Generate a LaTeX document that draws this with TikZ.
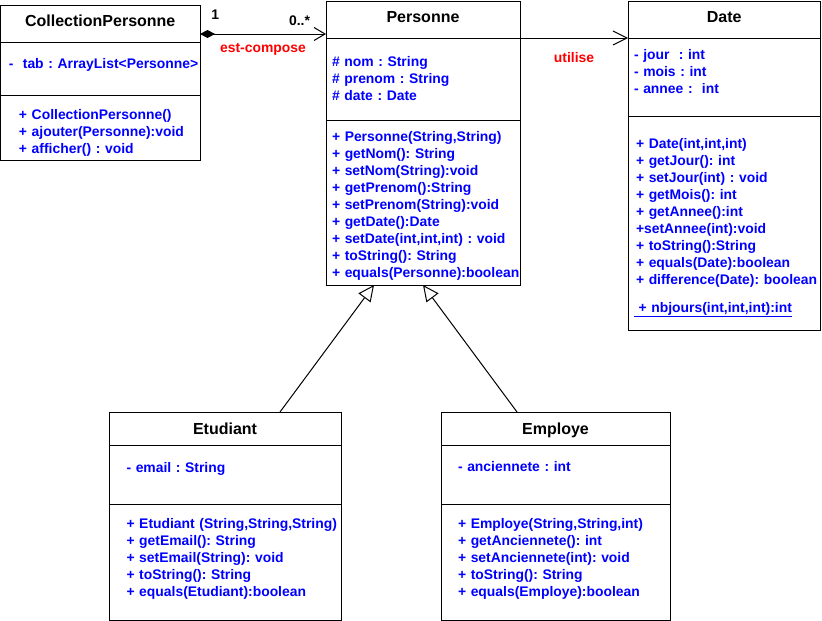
\documentclass[tikz,border=0pt]{standalone}
\usepackage{fontspec}
\setmainfont{Liberation Sans}
\usetikzlibrary{arrows.meta, positioning}
\definecolor{membblue}{HTML}{0000FF}
\definecolor{linkred}{HTML}{FF0000}
\newcommand{\headfont}{\fontsize{16}{19}\selectfont\bfseries}
\newcommand{\membfont}{\fontsize{13.9}{17}\selectfont\bfseries}
\frenchspacing

\begin{document}
\begin{tikzpicture}[
    x=1pt, y=-1pt,
    line width=1pt,
    head/.style={draw, outer sep=0pt, inner sep=0pt, anchor=north west,
                 font=\headfont, align=center, text depth=0pt},
    part/.style={draw, outer sep=0pt, inner xsep=0pt, inner ysep=2pt,
                 font=\membfont, text=membblue, align=left},
    pad/.style={execute at begin node={\leftskip=#1}},
    compose/.style={{Diamond[length=15pt,width=8pt]}-{Straight Barb[length=11pt,width=13pt]}},
    uses/.style={-{Straight Barb[length=14pt,width=14pt]}},
    inherit/.style={-{Triangle[open,length=16pt,width=15pt]}},
    role/.style={font=\membfont, text=linkred},
    mult/.style={font=\membfont},
]
    \useasboundingbox (0,0) rectangle (822,621);

    % CollectionPersonne
    \node[head, minimum width=199.5pt, minimum height=37pt, text depth=6pt] (colT) at (0.5,5) {CollectionPersonne};
    \node[part, below=0pt of colT, text width=199.5pt, minimum height=53pt, pad=8.5pt, text depth=10pt] (colA)
        {-\ \ tab~:~ArrayList<Personne>};
    \node[part, below=0pt of colA, text width=199.5pt, minimum height=65pt, pad=18.5pt, text depth=27pt] (colM)
        {+ CollectionPersonne()\\+~ajouter(Personne):void\\+ afficher() : void};

    % Personne
    \node[head, minimum width=194pt, minimum height=37pt, text depth=6pt] (perT) at (326,1) {Personne};
    \node[part, below=0pt of perT, text width=194pt, minimum height=82pt, pad=6pt] (perA)
        {\# nom : String\\\# prenom : String\\\# date : Date};
    \node[part, below=0pt of perA, text width=194pt, minimum height=165pt, pad=6pt, text depth=133pt] (perM)
        {+ Personne(String,String)\\+ getNom(): String\\+ setNom(String):void\\+ getPrenom():String\\
         + setPrenom(String):void\\+ getDate():Date\\+ setDate(int,int,int) : void\\+ toString(): String\\
         +~equals(Personne):boolean};

    % Date
    \node[head, minimum width=192.5pt, minimum height=37pt, text depth=6pt] (datT) at (628,1) {Date};
    \node[part, below=0pt of datT, text width=192.5pt, minimum height=78pt, pad=6pt, text depth=45pt] (datA)
        {- jour\ \ : int\\- mois : int\\- annee :\ \ int};
    \node[part, below=0pt of datA, text width=192.5pt, minimum height=214pt, pad=8pt, text depth=160pt] (datM)
        {+ Date(int,int,int)\\+ getJour(): int\\+ setJour(int) : void\\+ getMois(): int\\+ getAnnee():int\\
         +setAnnee(int):void\\+ toString():String\\+ equals(Date):boolean\\+~difference(Date):~boolean\\[11pt]
         \hspace*{-2pt}\underline{~+ nbjours(int,int,int):int}};

    % Etudiant
    \node[head, minimum width=232pt, minimum height=33pt] (etuT) at (109,412) {Etudiant};
    \node[part, below=0pt of etuT, text width=232pt, minimum height=59pt, pad=17.5pt, text depth=15pt] (etuA)
        {- email : String};
    \node[part, below=0pt of etuA, text width=232pt, minimum height=116pt, pad=17.5pt, text depth=77pt] (etuM)
        {+~Etudiant~(String,String,String)\\+ getEmail(): String\\+ setEmail(String): void\\
         + toString(): String\\+ equals(Etudiant):boolean};

    % Employe
    \node[head, minimum width=229pt, minimum height=33pt] (empT) at (441,412) {Employe};
    \node[part, below=0pt of empT, text width=229pt, minimum height=59pt, pad=17pt, text depth=17pt] (empA)
        {- anciennete : int};
    \node[part, below=0pt of empA, text width=229pt, minimum height=116pt, pad=17pt, text depth=77pt] (empM)
        {+ Employe(String,String,int)\\+ getAnciennete(): int\\+ setAnciennete(int): void\\
         + toString(): String\\+ equals(Employe):boolean};

    % Associations
    \draw[compose] ([yshift=-10.5pt]colT.east) -- ([yshift=-14.5pt]perT.west)
        node[mult, pos=0.12, above=11pt] {1}
        node[mult, pos=0.79, above=5pt] {0..*}
        node[role, midway, below=6pt] {est-compose};
    \draw[uses] (perT.south east) -- (datT.south west)
        node[role, midway, below=11pt] {utilise};

    % Heritage
    \draw[inherit] ([xshift=55pt]etuT.north) -- ([xshift=-49pt]perM.south);
    \draw[inherit] ([xshift=-38.5pt]empT.north) -- (perM.south);
\end{tikzpicture}
\end{document}
